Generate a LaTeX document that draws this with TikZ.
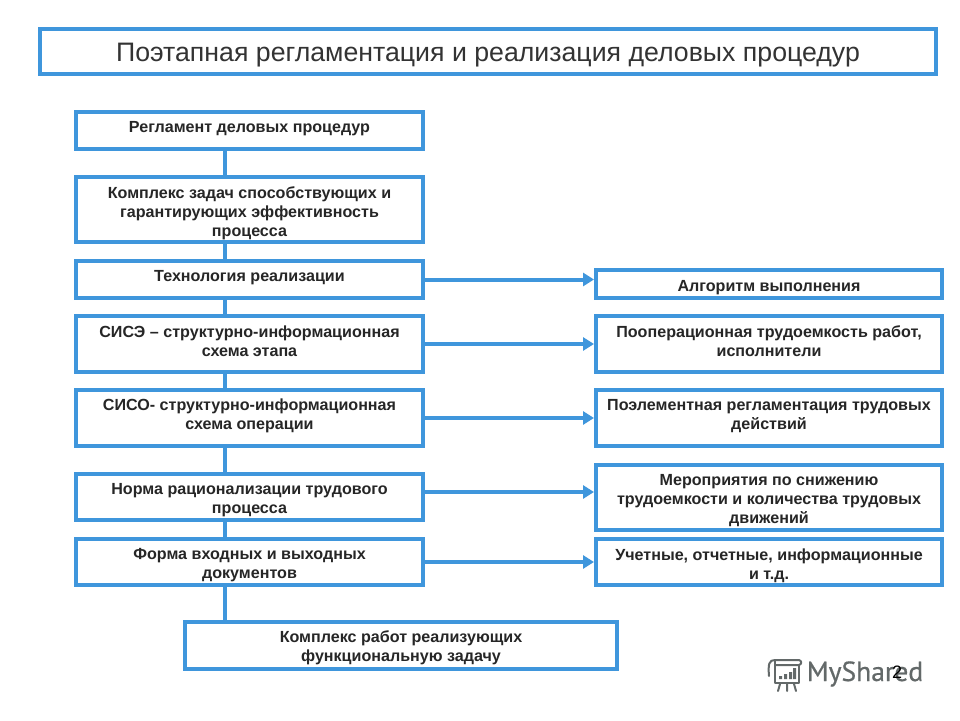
\documentclass[tikz,border=0pt]{standalone}
\usepackage{fontspec}
\setmainfont{Liberation Sans}
\newfontfamily\logofont[FakeBold=0.6]{PT Sans}
\usetikzlibrary{arrows.meta}
\definecolor{bluel}{HTML}{3F96DC}
\definecolor{logog}{HTML}{636969}
\tikzset{
  x=1pt,y=-1pt,
  boxn/.style={draw=bluel,line width=4pt,fill=white,inner sep=0pt},
  lbl/.style={align=center,font=\fontsize{16.1}{19}\selectfont\bfseries,text=black!85,inner sep=0pt},
  titlelbl/.style={align=center,font=\fontsize{26.7}{30}\selectfont,text=black!80,inner sep=0pt},
  link/.style={draw=bluel,line width=4pt},
  arr/.style={draw=bluel,line width=4pt,-{Triangle[length=11pt,width=13pt]},shorten >=0pt},
  logoline/.style={draw=logog,line width=2pt,line cap=round,line join=round}
}
% name, x0, y0, x1, y1, label dy, text
\newcommand{\bx}[7]{%
  \pgfmathsetlengthmacro{\bw}{#4-#2}%
  \pgfmathsetlengthmacro{\bh}{#5-#3}%
  \node[boxn,minimum width=\bw,minimum height=\bh,
    label={[lbl,yshift=#6]center:#7}] (#1) at ({(#2+#4)/2},{(#3+#5)/2}) {};}
\begin{document}
\begin{tikzpicture}
\useasboundingbox (0,0) rectangle (960,720);
\fill[white] (0,0) rectangle (960,720);
% title
\node[boxn,minimum width=896pt,minimum height=45pt,label={[titlelbl,yshift=-4pt]center:Поэтапная регламентация и реализация деловых процедур}] (title) at (488,51.5) {};
% left column
\bx{a}{76}{112}{423}{149}{1.5pt}{Регламент деловых процедур}
\bx{b}{76}{177}{423}{242}{-3.5pt}{Комплекс задач способствующих и\\гарантирующих эффективность\\процесса}
\bx{c}{76}{261}{423}{298}{1.5pt}{Технология реализации}
\bx{d}{76}{316}{423}{372}{2.5pt}{СИСЭ – структурно-информационная\\схема этапа}
\bx{e}{76}{390}{423}{446}{2pt}{СИСО- структурно-информационная\\схема операции}
\bx{f}{76}{474}{423}{520}{-3.5pt}{Норма рационализации трудового\\процесса}
\bx{g}{76}{539}{423}{585}{-3.5pt}{Форма входных и выходных\\документов}
\bx{h}{185}{622}{617}{669}{-2.5pt}{Комплекс работ реализующих\\функциональную задачу}
% right column
\bx{r1}{596}{270}{942}{298}{-4pt}{Алгоритм выполнения}
\bx{r2}{596}{316}{942}{372}{2.5pt}{Пооперационная трудоемкость работ,\\исполнители}
\bx{r3}{596}{390}{942}{446}{2pt}{Поэлементная регламентация трудовых\\действий}
\bx{r4}{596}{465}{942}{530}{-3.5pt}{Мероприятия по снижению\\трудоемкости и количества трудовых\\движений}
\bx{r5}{596}{539}{942}{585}{-3.5pt}{Учетные, отчетные, информационные\\и т.д.}
% vertical links
\foreach \u/\v in {a/b,b/c,c/d,d/e,e/f,f/g}
  \draw[link] ([xshift=-24.5pt]\u.south) -- ([xshift=-24.5pt]\v.north);
\draw[link] ([xshift=-24.5pt]g.south) -- ([xshift=-24.5pt]g.south |- h.north);
% horizontal arrows
\draw[arr] (c.east) -- (c.east -| r1.west);
\draw[arr] (d.east) -- (d.east -| r2.west);
\draw[arr] (e.east) -- (e.east -| r3.west);
\draw[arr] ([yshift=5pt]f.east) -- ([yshift=5pt]f.east -| r4.west);
\draw[arr] (g.east) -- (g.east -| r5.west);
% logo
\draw[logoline] (775,660) -- (799,660) .. controls (802,661) and (802,664) .. (799,665) -- (775,665);
\draw[logoline] (775,660) .. controls (769,660) and (768,664) .. (769,676);
\draw[logoline] (775,660) -- (775,683) -- (799,683) -- (799,665);
\draw[logoline] (780,684) -- (778,691) (787,684) -- (787,691) (794,684) -- (796,691);
\fill[logog] (779,676) rectangle (782,679) (784,674) rectangle (787,679) (789,672) rectangle (792,679) (793,668) rectangle (796,679);
\node[font=\logofont\fontsize{27.6}{30}\selectfont,text=logog,inner sep=0pt] (logo) at (865,674) {MyShared};
% page number
\node[font=\fontsize{18}{20}\selectfont,text=black,inner sep=0pt] (pg) at (897,672) {2};
\end{tikzpicture}
\end{document}
